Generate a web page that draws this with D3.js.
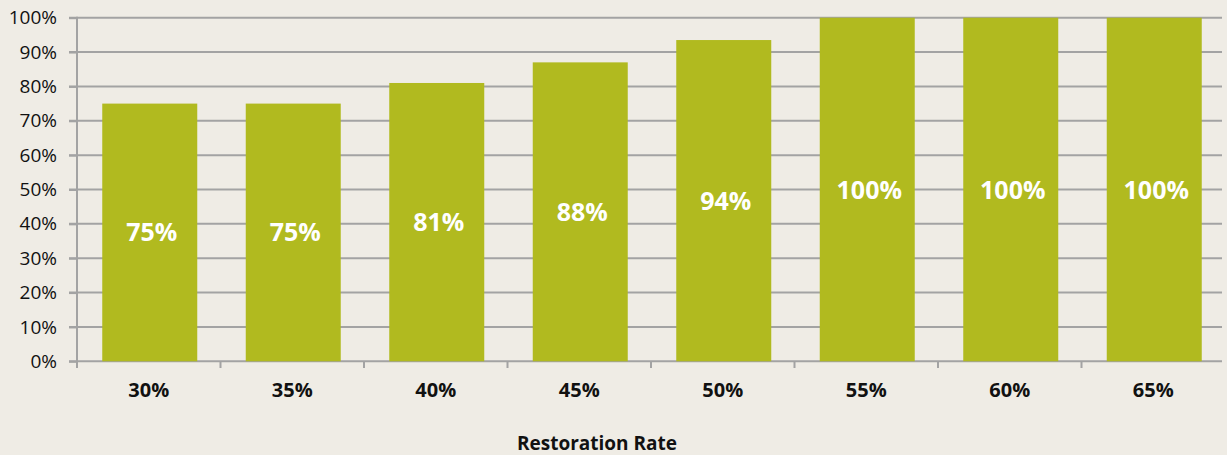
<!DOCTYPE html>
<html><head><meta charset="utf-8">
<script src="https://cdn.jsdelivr.net/npm/d3@7"></script>
<style>
html,body{margin:0;padding:0;background:#efece5;}
svg{display:block;}
</style></head>
<body>
<svg id="chart" width="1227" height="455"></svg>
<script>
const categories = ["30%","35%","40%","45%","50%","55%","60%","65%"];
const values = [75, 75, 81, 87, 93.5, 100, 100, 100];
const valueLabels = ["75%","75%","81%","88%","94%","100%","100%","100%"];
const yTicks = [0,10,20,30,40,50,60,70,80,90,100];
const xTitle = "Restoration Rate";

const svg = d3.select("#chart");
const x = d3.scaleBand().domain(categories).range([77, 1225]).paddingInner(0.338).paddingOuter(0.169);
const y = d3.scaleLinear().domain([0,100]).range([361.3, 17.7]);
const font = "'Open Sans', 'Noto Sans', sans-serif";
const grid = "#a3a3a3";

// gridlines
svg.append("g").selectAll("line").data(yTicks).join("line")
  .attr("x1", 69).attr("x2", 1222)
  .attr("y1", d=>y(d)).attr("y2", d=>y(d))
  .attr("stroke", grid).attr("stroke-width", 2);

// bars
svg.append("g").selectAll("rect").data(values).join("rect")
  .attr("x", (d,i)=>x(categories[i]) + 1)
  .attr("width", x.bandwidth())
  .attr("y", d=>y(d))
  .attr("height", d=>y(0)-y(d))
  .attr("fill", "#b1ba1f");

// value labels
svg.append("g").selectAll("text").data(values).join("text")
  .attr("x", (d,i)=>x(categories[i]) + x.bandwidth()/2 + 3)
  .attr("y", d=>y(d/2))
  .attr("dy", "0.36em")
  .attr("text-anchor", "middle")
  .attr("font-family", font).attr("font-weight", "bold").attr("font-size", 25)
  .attr("fill", "#ffffff")
  .text((d,i)=>valueLabels[i]);

// y axis
const yAxis = d3.axisLeft(y).tickValues(yTicks).tickFormat(d=>d+"%").tickSize(8).tickPadding(12);
const gy = svg.append("g").attr("transform","translate(77,0)").call(yAxis);
gy.select(".domain").remove();
gy.selectAll(".tick line").attr("stroke", grid).attr("stroke-width", 2);
gy.selectAll("text").attr("font-family", font).attr("font-size", 19).attr("fill","#111");
svg.append("line").attr("x1",77).attr("x2",77).attr("y1",y(100)-1).attr("y2",368)
  .attr("stroke", grid).attr("stroke-width", 2);

// x axis
const xAxis = d3.axisBottom(x).tickSize(0).tickPadding(22);
const gx = svg.append("g").attr("transform",`translate(0,${y(0)})`).call(xAxis);
gx.select(".domain").remove();
gx.selectAll("text").attr("font-family", font).attr("font-weight","bold").attr("font-size", 20).attr("fill","#111");
// boundary ticks
const bounds = categories.map(c=>x(c) - x.step()*x.paddingInner()/2);
svg.append("g").selectAll("line").data(bounds.slice(1)).join("line")
  .attr("x1", d=>d).attr("x2", d=>d).attr("y1", y(0)).attr("y2", 368)
  .attr("stroke", grid).attr("stroke-width", 2);

// x title
svg.append("text").attr("x", 597).attr("y", 450).attr("text-anchor","middle")
  .attr("font-family", font).attr("font-weight","bold").attr("font-size", 19).attr("fill","#111")
  .text(xTitle);
</script>
</body></html>
